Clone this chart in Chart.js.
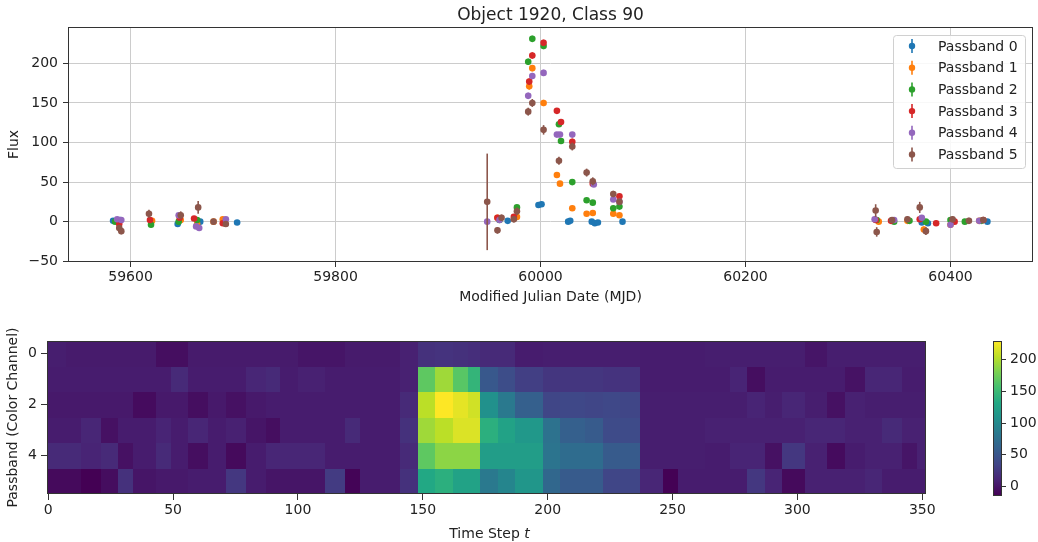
<!DOCTYPE html>
<html>
<head>
<meta charset="utf-8">
<script src="https://cdn.jsdelivr.net/npm/chart.js@4.4.1/dist/chart.umd.min.js"></script>
<style>
  body { margin: 0; background: #fff; }
  canvas { position: absolute; }
  #lc { left: 0; top: 0; }
  #heat { left: 0; top: 320px; }
  #cbar { left: 940px; top: 320px; }
</style>
</head>
<body>
<canvas id="lc" width="1038" height="310"></canvas>
<canvas id="heat" width="940" height="222"></canvas>
<canvas id="cbar" width="98" height="222"></canvas>
<script>
// light curve, one list per passband (MJD, flux, flux error)
const mjd0 = [59583, 59590, 59646, 59668, 59704, 59968, 59998, 60001, 60027, 60029, 60050, 60053, 60056, 60080, 60372, 60378, 60402, 60436];
const flux0 = [1, 2, -3, 0, -1, 1, 21, 22, 0, 1, 0, -2, -1, 0, -1, -2, 1, 0];
const err0 = [2, 2, 2, 2, 2, 2, 3, 3, 2, 2, 2, 2, 2, 2, 2, 2, 2, 2];

const mjd1 = [59588, 59621, 59649, 59665, 59681, 59690, 59958, 59977, 59989, 59992, 60003, 60016, 60019, 60031, 60045, 60051, 60071, 60077, 60330, 60358, 60374, 60400, 60428];
const flux1 = [0, 1, 2, -3, 0, 3, 5, 6, 171, 194, 150, 59, 48, 17, 10, 11, 10, 8, 0, 1, -10, -4, 1];
const err1 = [3, 3, 3, 3, 3, 3, 3, 3, 4, 4, 4, 3, 3, 3, 3, 3, 3, 3, 3, 3, 4, 3, 3];

const mjd2 = [59585, 59620, 59647, 59665, 59692, 59960, 59977, 59988, 59992, 60003, 60018, 60020, 60031, 60045, 60051, 60071, 60077, 60328, 60345, 60360, 60376, 60400, 60414, 60430];
const flux2 = [0, -4, 0, 2, -2, 2, 18, 202, 231, 222, 123, 102, 50, 27, 24, 17, 19, 2, 0, 1, 0, 2, 0, 1];
const err2 = [3, 3, 3, 3, 3, 3, 3, 4, 4, 4, 3, 3, 3, 3, 3, 3, 3, 3, 3, 3, 3, 3, 3, 3];

const mjd3 = [59589, 59619, 59648, 59662, 59690, 59958, 59974, 59989, 59992, 60003, 60016, 60020, 60031, 60051, 60077, 60327, 60342, 60370, 60386, 60404, 60432];
const flux3 = [-3, 2, 5, 4, -2, 5, 6, 177, 210, 226, 140, 126, 101, 48, 32, 2, 1, 3, -2, 0, 2];
const err3 = [3, 3, 3, 3, 3, 3, 3, 4, 4, 4, 3, 3, 4, 3, 3, 3, 3, 3, 3, 3, 3];

const mjd4 = [59587, 59591, 59647, 59664, 59667, 59693, 59948, 59960, 59988, 59992, 60003, 60016, 60019, 60031, 60052, 60071, 60077, 60326, 60345, 60372, 60400, 60428];
const flux4 = [3, 2, 8, -6, -8, 3, 0, 2, 159, 184, 188, 110, 110, 110, 47, 28, 25, 3, 2, 5, -4, 1];
const err4 = [3, 3, 3, 3, 3, 3, 3, 3, 4, 4, 4, 3, 3, 3, 3, 3, 3, 3, 3, 3, 4, 3];

const mjd5 = [59589, 59591, 59618, 59649, 59666, 59681, 59693, 59948, 59958, 59962, 59974, 59977, 59988, 59992, 60003, 60018, 60031, 60045, 60051, 60071, 60077, 60327, 60328, 60343, 60358, 60370, 60376, 60402, 60418, 60432];
const flux5 = [-8, -12, 10, 8, 18, 0, -3, 25, -11, 5, 3, 13, 139, 150, 116, 77, 95, 62, 51, 35, 25, 14, -13, 2, 3, 18, -12, 3, 1, 2];
const err5 = [4, 4, 5, 5, 8, 3, 3, 61, 4, 4, 4, 5, 5, 5, 6, 5, 5, 5, 5, 4, 4, 8, 6, 4, 4, 7, 5, 4, 4, 4];

const mjdTicks = [59600, 59800, 60000, 60200, 60400];
const fluxTicks = [-50, 0, 50, 100, 150, 200];

// heatmap: block edges along t, one value per block for each passband row
const heatEdges = [-0.5, 7, 13, 21, 28, 34, 43, 49, 56, 64, 71, 79, 87, 93, 100, 111, 119, 125, 134, 141, 148, 155, 162, 168, 173, 180, 187, 198, 205, 215, 222, 229, 237, 246, 252, 263, 273, 280, 287, 294, 303, 312, 319, 327, 334, 342, 348, 351.5];
const heatRow0 = [6, 4, 4, 4, 4, 4, -5, -5, 4, 4, 4, 4, 4, 4, 0, 0, 4, 4, 4, 8, 20, 22, 20, 18, 15, 15, 5, 6, 6, 6, 6, 6, 5, 5, 5, 6, 6, 6, 6, 6, 0, 6, 6, 6, 6, 6, 6];
const heatRow1 = [5, 5, 5, 5, 5, 5, 5, 15, 5, 5, 5, 12, 15, 5, 8, 5, 5, 5, 5, 8, 168, 194, 165, 145, 53, 43, 31, 24, 24, 24, 22, 22, 5, 5, 5, 5, 10, -5, 5, 5, 5, 5, -2, 12, 12, 5, 5];
const heatRow2 = [3, 3, 3, 3, 3, -7, 3, 3, -5, 3, -3, 3, 5, 5, 5, 5, 5, 5, 5, 15, 204, 229, 220, 212, 108, 84, 60, 36, 38, 36, 38, 36, 6, 6, 6, 6, 6, 10, 6, 12, 6, -3, 8, 6, 6, 6, 6];
const heatRow3 = [5, 5, 12, -3, 5, 5, 10, 5, 12, 5, 8, 0, -5, 5, 5, 5, 15, 5, 5, 20, 194, 204, 216, 216, 139, 125, 115, 77, 60, 55, 41, 41, 6, 6, 6, 8, 8, 8, 8, 8, 12, 12, 8, 8, 15, 8, 8];
const heatRow4 = [15, 15, 10, 15, -3, 5, 15, 5, -5, 5, -8, 5, 12, 12, 12, 5, 5, 5, 5, 15, 168, 187, 187, 187, 120, 120, 120, 79, 72, 72, 55, 55, 6, 6, 6, 5, 10, 10, -3, 25, 8, -7, 5, 8, 8, 0, 8];
const heatRow5 = [-8, -8, -14, -6, 20, 0, 3, 3, 5, 5, 25, 5, 0, 0, 0, 28, -12, 5, 5, 20, 132, 139, 125, 125, 84, 96, 113, 67, 55, 55, 36, 36, 12, -13, 5, 5, 5, 25, 10, -8, 8, 8, 8, 12, 5, 5, 5];
const stepTicks = [0, 50, 100, 150, 200, 250, 300, 350];
const bandTicks = [0, 2, 4];

// colour bar range
const cbMin = -14;
const cbMax = 229;
const cbTicks = [0, 50, 100, 150, 200];

const bandColors = ['#1f77b4', '#ff7f0e', '#2ca02c', '#d62728', '#9467bd', '#8c564b'];
const bandMjd = [mjd0, mjd1, mjd2, mjd3, mjd4, mjd5];
const bandFlux = [flux0, flux1, flux2, flux3, flux4, flux5];
const bandErr = [err0, err1, err2, err3, err4, err5];
const heatRows = [heatRow0, heatRow1, heatRow2, heatRow3, heatRow4, heatRow5];

Chart.defaults.font.family = 'DejaVu Sans';
Chart.defaults.font.size = 14;
Chart.defaults.color = '#222';

const viridisStops = ['#440154', '#482475', '#414487', '#355f8d', '#2a788e', '#21918c', '#22a884', '#44bf70', '#7ad151', '#bddf26', '#fde725'];
function hexRgb(h) {
  return [parseInt(h.slice(1, 3), 16), parseInt(h.slice(3, 5), 16), parseInt(h.slice(5, 7), 16)];
}
function viridis(f) {
  f = Math.min(1, Math.max(0, f));
  const p = f * 10;
  const i = Math.min(9, Math.floor(p));
  const t = p - i;
  const a = hexRgb(viridisStops[i]), b = hexRgb(viridisStops[i + 1]);
  const c = a.map((v, k) => Math.round(v + (b[k] - v) * t));
  return 'rgb(' + c.join(',') + ')';
}

const minus = v => String(v).replace('-', '\u2212');

// frame round the plot area
const frame = {
  id: 'frame',
  afterDraw(chart) {
    const a = chart.chartArea, ctx = chart.ctx;
    ctx.save();
    ctx.strokeStyle = '#333';
    ctx.lineWidth = 1;
    ctx.strokeRect(Math.round(a.left) + 0.5, Math.round(a.top) + 0.5, Math.round(a.right - a.left) - 1, Math.round(a.bottom - a.top) - 1);
    ctx.restore();
  }
};

// vertical error bars, drawn just before each passband's dots
const errorBars = {
  id: 'errorBars',
  beforeDatasetDraw(chart, args) {
    const ds = chart.data.datasets[args.index];
    if (!ds.err) return;
    const ctx = chart.ctx, xs = chart.scales.x, ys = chart.scales.y;
    ctx.save();
    ctx.strokeStyle = ds.borderColor;
    ctx.lineWidth = 1.6;
    ds.data.forEach((p, k) => {
      const px = xs.getPixelForValue(p.x);
      ctx.beginPath();
      ctx.moveTo(px, ys.getPixelForValue(p.y - ds.err[k]));
      ctx.lineTo(px, ys.getPixelForValue(p.y + ds.err[k]));
      ctx.stroke();
    });
    ctx.restore();
  }
};

// title and matplotlib style legend box
const lcDecor = {
  id: 'lcDecor',
  afterDraw(chart) {
    const a = chart.chartArea, ctx = chart.ctx;
    ctx.save();
    ctx.fillStyle = '#222';
    ctx.font = '17px "DejaVu Sans"';
    ctx.textAlign = 'center';
    ctx.textBaseline = 'alphabetic';
    ctx.fillText('Object 1920, Class 90', (a.left + a.right) / 2, 19.5);

    const bw = 132, bh = 133;
    const bx = a.right - 8 - bw, by = a.top + 8;
    ctx.fillStyle = 'rgba(255,255,255,0.85)';
    ctx.strokeStyle = '#d0d0d0';
    ctx.lineWidth = 1;
    ctx.beginPath();
    ctx.roundRect(bx + 0.5, by + 0.5, bw, bh, 3);
    ctx.fill();
    ctx.stroke();
    ctx.font = '14px "DejaVu Sans"';
    ctx.textAlign = 'left';
    ctx.textBaseline = 'middle';
    chart.data.datasets.forEach((ds, i) => {
      const y = by + 11 + i * 21.7;
      ctx.strokeStyle = ds.borderColor;
      ctx.fillStyle = ds.backgroundColor;
      ctx.lineWidth = 1.6;
      ctx.beginPath();
      ctx.moveTo(bx + 19, y - 7);
      ctx.lineTo(bx + 19, y + 7);
      ctx.stroke();
      ctx.beginPath();
      ctx.arc(bx + 19, y, 3.2, 0, Math.PI * 2);
      ctx.fill();
      ctx.fillStyle = '#222';
      ctx.fillText(ds.label, bx + 45, y + 1);
    });
    ctx.restore();
  }
};

const lcDatasets = bandMjd.map((m, i) => ({
  label: 'Passband ' + i,
  data: m.map((x, k) => ({ x: x, y: bandFlux[i][k] })),
  err: bandErr[i],
  backgroundColor: bandColors[i],
  borderColor: bandColors[i],
  pointRadius: 3.3,
  pointBorderWidth: 0,
  order: 5 - i
}));

new Chart(document.getElementById('lc'), {
  type: 'scatter',
  data: { datasets: lcDatasets },
  options: {
    responsive: false,
    animation: false,
    devicePixelRatio: 1,
    layout: { padding: { left: 0, top: 27, right: 5, bottom: 0 } },
    plugins: { legend: { display: false }, tooltip: { enabled: false } },
    scales: {
      x: {
        type: 'linear', min: 59539, max: 60480.5,
        afterFit: s => { s.height = 48; },
        afterBuildTicks: s => { s.ticks = mjdTicks.map(v => ({ value: v })); },
        grid: { color: '#cccccc', tickLength: 5, tickColor: '#333' },
        border: { display: false },
        ticks: { padding: 2, callback: v => minus(v) },
        title: { display: true, text: 'Modified Julian Date (MJD)', padding: { top: 0, bottom: 4 } }
      },
      y: {
        type: 'linear', min: -51, max: 246,
        afterFit: s => { s.width = 68; },
        afterBuildTicks: s => { s.ticks = fluxTicks.map(v => ({ value: v })); },
        grid: { color: '#cccccc', tickLength: 5, tickColor: '#333' },
        border: { display: false },
        ticks: { padding: 5, callback: v => minus(v) },
        title: { display: true, text: 'Flux', padding: { top: 5.6, bottom: 0 } }
      }
    }
  },
  plugins: [errorBars, frame, lcDecor]
});

// heatmap cells through the x (time step) and y (passband) scales,
// snapped to whole pixels so neighbouring cells leave no seams
const heatCells = {
  id: 'heatCells',
  beforeDatasetsDraw(chart) {
    const ctx = chart.ctx, xs = chart.scales.x, ys = chart.scales.y;
    ctx.save();
    heatRows.forEach((row, r) => {
      const y0 = Math.round(ys.getPixelForValue(r - 0.5)), y1 = Math.round(ys.getPixelForValue(r + 0.5));
      row.forEach((v, b) => {
        const x0 = Math.round(xs.getPixelForValue(heatEdges[b])), x1 = Math.round(xs.getPixelForValue(heatEdges[b + 1]));
        ctx.fillStyle = viridis((v - cbMin) / (cbMax - cbMin));
        ctx.fillRect(x0, y0, x1 - x0, y1 - y0);
      });
    });
    ctx.restore();
  }
};

const timeLabel = {
  id: 'timeLabel',
  afterDraw(chart) {
    const a = chart.chartArea, ctx = chart.ctx;
    ctx.save();
    ctx.fillStyle = '#222';
    ctx.textBaseline = 'alphabetic';
    ctx.textAlign = 'left';
    const p1 = 'Time Step ', p2 = 't';
    ctx.font = '14px "DejaVu Sans"';
    const w1 = ctx.measureText(p1).width;
    ctx.font = 'italic 14px "DejaVu Sans"';
    const w2 = ctx.measureText(p2).width;
    const x = (a.left + a.right) / 2 + 3 - (w1 + w2) / 2;
    ctx.font = '14px "DejaVu Sans"';
    ctx.fillText(p1, x, 217.5);
    ctx.font = 'italic 14px "DejaVu Sans"';
    ctx.fillText(p2, x + w1, 217.5);
    ctx.restore();
  }
};

new Chart(document.getElementById('heat'), {
  type: 'scatter',
  data: { datasets: [] },
  options: {
    responsive: false,
    animation: false,
    devicePixelRatio: 1,
    layout: { padding: { left: 0, top: 21, right: 14, bottom: 0 } },
    plugins: { legend: { display: false }, tooltip: { enabled: false } },
    scales: {
      x: {
        type: 'linear', min: -0.5, max: 351.5,
        afterFit: s => { s.height = 48; },
        afterBuildTicks: s => { s.ticks = stepTicks.map(v => ({ value: v })); },
        grid: { drawOnChartArea: false, tickLength: 6, tickColor: '#333' },
        border: { display: false },
        ticks: { padding: 2, callback: v => minus(v) }
      },
      y: {
        type: 'linear', min: -0.5, max: 5.5, reverse: true,
        afterFit: s => { s.width = 47; },
        afterBuildTicks: s => { s.ticks = bandTicks.map(v => ({ value: v })); },
        grid: { drawOnChartArea: false, tickLength: 6, tickColor: '#333' },
        border: { display: false },
        ticks: { padding: 4, callback: v => minus(v) },
        title: { display: true, text: 'Passband (Color Channel)', padding: { top: 5, bottom: 0 } }
      }
    }
  },
  plugins: [heatCells, frame, timeLabel]
});

// colour bar: viridis gradient laid along its own value scale
const cbFill = {
  id: 'cbFill',
  beforeDatasetsDraw(chart) {
    const a = chart.chartArea, ctx = chart.ctx, ys = chart.scales.y;
    const g = ctx.createLinearGradient(0, ys.getPixelForValue(cbMin), 0, ys.getPixelForValue(cbMax));
    viridisStops.forEach((c, i) => g.addColorStop(i / 10, c));
    ctx.save();
    ctx.fillStyle = g;
    ctx.fillRect(a.left, a.top, a.right - a.left, a.bottom - a.top);
    ctx.restore();
  }
};

new Chart(document.getElementById('cbar'), {
  type: 'scatter',
  data: { datasets: [] },
  options: {
    responsive: false,
    animation: false,
    devicePixelRatio: 1,
    layout: { padding: { left: 53, top: 21, right: 0, bottom: 46.5 } },
    plugins: { legend: { display: false }, tooltip: { enabled: false } },
    scales: {
      x: { display: false, min: 0, max: 1 },
      y: {
        type: 'linear', position: 'right', min: cbMin, max: cbMax,
        afterFit: s => { s.width = 36; },
        afterBuildTicks: s => { s.ticks = cbTicks.map(v => ({ value: v })); },
        grid: { drawOnChartArea: false, tickLength: 4, tickColor: '#333' },
        border: { display: false },
        ticks: { padding: 4, callback: v => minus(v) }
      }
    }
  },
  plugins: [cbFill, frame]
});
</script>
</body>
</html>
